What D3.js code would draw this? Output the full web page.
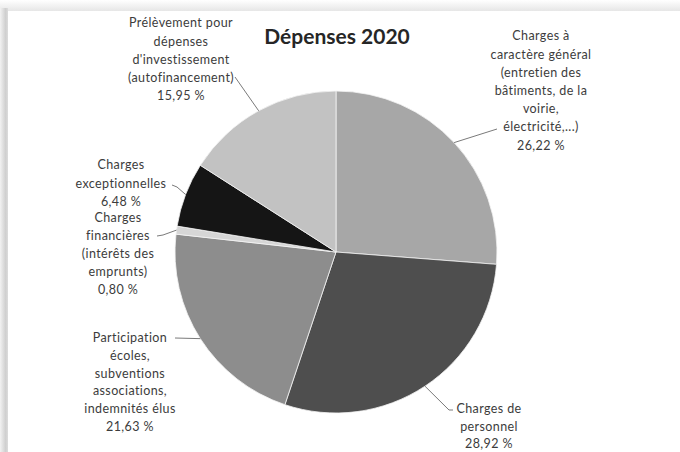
<!DOCTYPE html>
<html>
<head>
<meta charset="utf-8">
<script src="https://cdn.jsdelivr.net/npm/d3@7"></script>
<style>
html,body{margin:0;padding:0;background:#fff;}
svg{display:block;}
</style>
</head>
<body>
<svg id="chart" width="680" height="452"></svg>
<script>
const title = "Dépenses 2020";
const categories = [
  "Charges à caractère général",
  "Charges de personnel",
  "Participation écoles, subventions associations, indemnités élus",
  "Charges financières",
  "Charges exceptionnelles",
  "Prélèvement pour dépenses d'investissement"
];
const values = [26.22, 28.92, 21.63, 0.80, 6.48, 15.95];
const labelLines = [
  ["Charges à", "caractère général", "(entretien des", "bâtiments, de la", "voirie,", "électricité,...)"],
  ["Charges de", "personnel"],
  ["Participation", "écoles,", "subventions", "associations,", "indemnités élus"],
  ["Charges", "financières", "(intérêts des", "emprunts)"],
  ["Charges", "exceptionnelles"],
  ["Prélèvement pour", "dépenses", "d'investissement", "(autofinancement)"]
];
const colors = ["#a7a7a7", "#4e4e4e", "#8d8d8d", "#d6d6d6", "#151515", "#c2c2c2"];

// layout (label placement)
const labelLayout = [
  {cx: 541, y0: 36, dy: 18.2, lead: [[497,129]]},
  {cx: 489, y0: 409, dy: 17.5, lead: [[449,410],[453,410]]},
  {cx: 130, y0: 338, dy: 17.7, lead: [[175,338]]},
  {cx: 118, y0: 218, dy: 18, lead: [[163,235],[157,236]]},
  {cx: 121, y0: 165, dy: 18.3, lead: [[177,187],[172,185]]},
  {cx: 181, y0: 23, dy: 18.2, lead: [[235,77]]}
];

const svg = d3.select("#chart");
const W = 680, H = 452;

// page shadow / frame
const defs = svg.append("defs");
const gTop = defs.append("linearGradient").attr("id","gTop").attr("x1",0).attr("y1",0).attr("x2",0).attr("y2",1);
gTop.append("stop").attr("offset","0%").attr("stop-color","#ffffff");
gTop.append("stop").attr("offset","100%").attr("stop-color","#e6e6e6");
const gLeft = defs.append("linearGradient").attr("id","gLeft").attr("x1",0).attr("y1",0).attr("x2",1).attr("y2",0);
gLeft.append("stop").attr("offset","0%").attr("stop-color","#f2f2f2");
gLeft.append("stop").attr("offset","70%").attr("stop-color","#cfcfcf");
gLeft.append("stop").attr("offset","100%").attr("stop-color","#dcdcdc");
svg.append("rect").attr("x",0).attr("y",0).attr("width",W).attr("height",11).attr("fill","url(#gTop)");
svg.append("rect").attr("x",0).attr("y",8).attr("width",8).attr("height",H-8).attr("fill","url(#gLeft)");
svg.append("rect").attr("x",8).attr("y",11).attr("width",W-8).attr("height",H-11).attr("fill","#ffffff");

const cx = 336, cy = 252, r = 161;

const data = categories.map((c,i)=>({cat:c, value:values[i], lines:labelLines[i], color:colors[i], lay:labelLayout[i]}));

const pie = d3.pie().value(d=>d.value).sort(null);
const arcs = pie(data);
const arc = d3.arc().innerRadius(0).outerRadius(r);

const g = svg.append("g").attr("transform",`translate(${cx},${cy})`);
g.selectAll("path.slice").data(arcs).enter().append("path")
  .attr("class","slice")
  .attr("d",arc)
  .attr("fill",d=>d.data.color)
  .attr("stroke","#f4f4f4")
  .attr("stroke-width",0.8);

// leader lines
arcs.forEach(a=>{
  const mid = (a.startAngle + a.endAngle)/2;
  const p0 = [cx + r*Math.sin(mid), cy - r*Math.cos(mid)];
  const pts = [p0].concat(a.data.lay.lead);
  svg.append("path")
    .attr("d", d3.line()(pts))
    .attr("fill","none")
    .attr("stroke","#7a7a7a")
    .attr("stroke-width",1);
});

// labels
const fmt = v => d3.format(".2f")(v).replace(".", ",") + " %";
arcs.forEach(a=>{
  const L = a.data.lay;
  const lines = a.data.lines.concat([fmt(a.data.value)]);
  const t = svg.append("text")
    .attr("text-anchor","middle")
    .attr("font-family","Lato, 'Open Sans', sans-serif")
    .attr("font-size","12.5px")
    .attr("letter-spacing","0.4px")
    .attr("fill","#3c3c3c");
  lines.forEach((ln,i)=>{
    t.append("tspan").attr("x",L.cx).attr("y",L.y0 + i*L.dy).attr("dy","0.35em").text(ln);
  });
});

svg.append("text")
  .attr("x",337).attr("y",37).attr("dy","0.35em")
  .attr("text-anchor","middle")
  .attr("font-family","Lato, 'Open Sans', sans-serif")
  .attr("font-weight","bold")
  .attr("font-size","21px")
  .attr("fill","#262626")
  .text(title);
</script>
</body>
</html>
